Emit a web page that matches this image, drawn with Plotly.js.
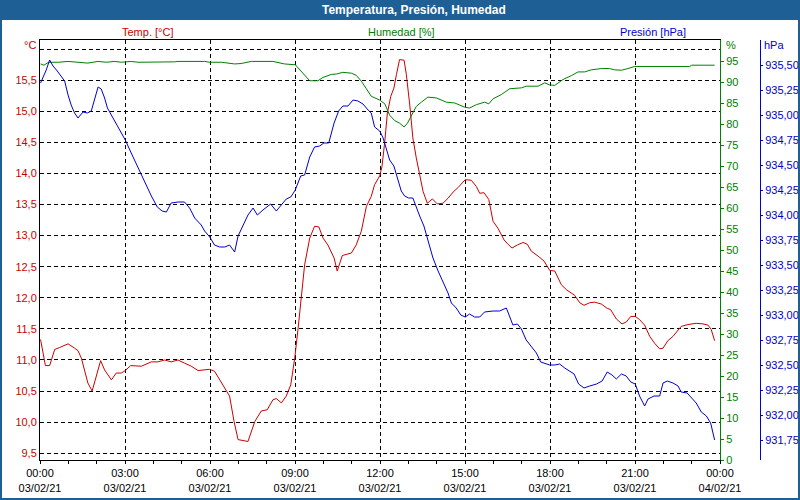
<!DOCTYPE html>
<html>
<head>
<meta charset="utf-8">
<script src="https://cdn.plot.ly/plotly-3.0.1.min.js"></script>
<style>html,body{margin:0;padding:0;background:#fff}#chart{width:800px;height:500px}</style>
</head>
<body>
<div id="chart"></div>
<script>
// ---- Data (hours since 03/02/21 00:00) ----
const tempHours = [0.02,0.19,0.34,0.52,0.69,0.99,1.22,1.34,1.46,1.58,1.69,1.84,1.99,2.14,2.28,2.52,2.69,2.87,3.01,3.20,
  3.58,3.93,4.16,4.40,4.63,4.87,5.10,5.34,5.58,5.81,5.99,6.16,6.34,6.58,6.69,6.85,6.99,7.34,7.58,7.81,
  8.02,8.22,8.34,8.52,8.69,8.85,8.99,9.11,9.22,9.34,9.52,9.69,9.84,9.99,10.16,10.38,10.49,10.67,10.99,11.16,
  11.34,11.52,11.69,11.81,11.99,12.07,12.17,12.26,12.38,12.49,12.58,12.69,12.85,12.93,13.05,13.16,13.28,13.40,13.52,13.67,
  13.85,14.02,14.22,14.40,14.58,14.75,14.93,15.01,15.22,15.40,15.52,15.67,15.84,15.99,16.16,16.38,16.52,16.66,16.85,17.05,
  17.20,17.34,17.58,17.79,17.99,18.17,18.40,18.58,18.87,19.05,19.20,19.40,19.58,19.81,20.02,20.14,20.34,20.54,20.69,20.85,
  21.01,21.16,21.34,21.52,21.69,21.87,21.99,22.16,22.34,22.63,22.87,23.16,23.40,23.58,23.69,23.81];
const tempValues = [11.33,10.91,10.91,11.17,11.20,11.26,11.19,11.15,11.03,10.82,10.63,10.50,10.76,10.99,10.84,10.68,10.79,10.79,10.83,10.91,
  10.90,10.97,10.97,11.00,10.97,11.00,10.95,10.90,10.83,10.84,10.85,10.82,10.68,10.50,10.42,10.01,9.72,9.69,10.01,10.18,
  10.20,10.36,10.38,10.31,10.42,10.60,11.03,11.51,12.00,12.53,12.96,13.15,13.14,12.96,12.85,12.64,12.43,12.68,12.72,12.85,
  13.07,13.47,13.63,13.82,13.96,14.11,14.52,14.97,15.24,15.37,15.59,15.83,15.82,15.59,15.10,14.57,14.25,13.98,13.71,13.52,
  13.59,13.51,13.52,13.60,13.70,13.77,13.86,13.90,13.89,13.79,13.68,13.69,13.58,13.23,13.12,12.93,12.86,12.80,12.85,12.89,
  12.86,12.75,12.67,12.59,12.44,12.43,12.21,12.13,12.04,11.92,11.88,11.92,11.93,11.90,11.83,11.81,11.66,11.58,11.61,11.70,
  11.70,11.65,11.56,11.38,11.27,11.18,11.19,11.31,11.38,11.54,11.57,11.59,11.58,11.56,11.49,11.31];

const presHours = [0.02,0.14,0.22,0.34,0.46,0.61,0.75,0.87,0.99,1.10,1.22,1.34,1.52,1.67,1.81,1.93,2.05,2.16,2.28,2.38,
  2.52,2.69,2.87,3.01,3.22,3.46,3.69,3.93,4.14,4.31,4.46,4.63,4.87,5.10,5.28,5.46,5.69,5.81,5.99,6.16,
  6.34,6.52,6.69,6.87,6.99,7.16,7.34,7.52,7.67,7.87,8.14,8.34,8.52,8.69,8.85,9.01,9.20,9.34,9.52,9.69,
  9.87,10.02,10.19,10.38,10.54,10.69,10.87,11.05,11.22,11.40,11.58,11.69,11.81,11.99,12.11,12.22,12.34,12.49,12.64,12.75,
  12.87,13.01,13.16,13.28,13.40,13.55,13.69,13.87,14.05,14.26,14.40,14.52,14.69,14.85,15.01,15.16,15.34,15.52,15.69,15.99,
  16.22,16.46,16.58,16.69,16.85,16.99,17.16,17.34,17.52,17.67,17.81,17.99,18.17,18.34,18.52,18.69,18.85,19.01,19.20,19.40,
  19.64,19.84,20.02,20.19,20.34,20.52,20.69,20.85,21.01,21.16,21.34,21.46,21.67,21.87,21.99,22.14,22.34,22.52,22.63,22.84,
  22.99,23.16,23.34,23.52,23.67,23.81];
const presValues = [935.32,935.40,935.45,935.55,935.49,935.44,935.38,935.34,935.20,935.10,935.02,934.97,935.03,935.02,935.04,935.17,935.28,935.26,935.17,935.07,
  935.00,934.91,934.82,934.75,934.62,934.47,934.34,934.19,934.08,934.04,934.03,934.12,934.13,934.13,934.07,933.97,933.90,933.84,933.78,933.70,
  933.68,933.68,933.70,933.63,933.79,933.89,934.00,934.07,934.00,934.05,934.11,934.04,934.10,934.16,934.18,934.25,934.39,934.40,934.58,934.68,
  934.69,934.72,934.72,934.92,935.04,935.09,935.09,935.15,935.14,935.11,935.05,935.02,934.88,934.84,934.77,934.67,934.55,934.49,934.34,934.24,
  934.19,934.17,934.17,934.07,933.99,933.89,933.74,933.57,933.44,933.30,933.22,933.12,933.07,933.00,932.98,933.01,932.98,932.98,933.03,933.04,
  933.04,933.07,932.99,932.90,932.91,932.86,932.75,932.68,932.62,932.53,932.52,932.50,932.50,932.51,932.47,932.44,932.41,932.31,932.27,932.29,
  932.31,932.34,932.43,932.40,932.36,932.41,932.39,932.33,932.31,932.19,932.09,932.16,932.19,932.19,932.32,932.34,932.32,932.29,932.23,932.22,
  932.17,932.12,932.03,931.99,931.92,931.75];

const humHours = [0.02,0.14,0.30,0.65,0.99,1.34,1.69,2.05,2.34,2.64,2.87,3.22,3.46,4.75,4.87,5.81,5.99,6.40,6.87,7.10,
  7.46,8.22,8.63,9.01,9.17,9.34,9.52,9.81,9.99,10.28,10.46,10.69,10.99,11.16,11.34,11.52,11.69,11.99,12.17,12.34,
  12.52,12.69,12.85,12.97,13.11,13.28,13.46,13.69,13.99,14.34,14.64,14.99,15.16,15.40,15.69,15.84,15.99,16.28,16.58,16.99,
  17.16,17.58,17.81,17.99,18.17,18.46,18.75,18.99,19.22,19.46,19.81,20.10,20.28,20.52,20.75,20.99,22.93,23.00,23.81];
const humValues = [94.3,94.0,94.7,94.7,94.9,94.7,94.5,94.9,94.7,94.9,94.7,94.9,94.7,94.8,94.9,94.9,94.7,94.7,94.3,94.4,
  94.9,94.9,94.3,94.1,92.9,91.4,90.3,90.3,91.1,91.8,91.9,92.3,92.1,91.6,90.2,88.4,86.6,85.7,84.8,82.1,
  80.8,80.2,79.3,80.2,82.1,84.2,85.2,86.4,86.2,85.2,85.0,84.0,83.8,84.6,85.2,84.8,86.0,87.0,88.4,88.6,
  89.0,89.0,89.8,89.3,89.2,90.6,91.5,92.4,92.4,92.9,93.2,93.2,92.9,92.8,93.2,93.7,93.7,94.0,94.0];

// ---- Axes ticks / labels ----
const xTickHours = [0,3,6,9,12,15,18,21,24];
const xTickTimes = ["00:00","03:00","06:00","09:00","12:00","15:00","18:00","21:00","00:00"];
const xTickDates = ["03/02/21","03/02/21","03/02/21","03/02/21","03/02/21","03/02/21","03/02/21","03/02/21","04/02/21"];
const tempTicks = [9.5,10.0,10.5,11.0,11.5,12.0,12.5,13.0,13.5,14.0,14.5,15.0,15.5,16.0];
const tempTickText = ["9,5","10,0","10,5","11,0","11,5","12,0","12,5","13,0","13,5","14,0","14,5","15,0","15,5",""];
const humTicks = [0,5,10,15,20,25,30,35,40,45,50,55,60,65,70,75,80,85,90,95];
const presTicks = [931.75,932.00,932.25,932.50,932.75,933.00,933.25,933.50,933.75,934.00,934.25,934.50,934.75,935.00,935.25,935.50];

const titleText = "Temperatura, Presión, Humedad";
const seriesNames = ["Temp. [°C]","Humedad [%]","Presión [hPa]"];
const unitNames = ["°C","%","hPa"];

// ---- Styles ----
const RED = "#cc0000", GREEN = "#008000", BLUE = "#0000cc", BAR = "#1e5f96";
const FONT = "Liberation Sans, Arial, sans-serif";
const W = 800, H = 500, ML = 40, MR = 80, MT = 40, MB = 40;
const PW = W - ML - MR, PH = H - MT - MB;
const px = x => (x - ML) / PW;        // pixel x -> paper
const py = y => (H - MB - y) / PH;    // pixel y -> paper

const traces = [
  {x: tempHours, y: tempValues, type: "scatter", mode: "lines", name: seriesNames[0],
   line: {color: RED, width: 1}, yaxis: "y"},
  {x: humHours, y: humValues, type: "scatter", mode: "lines", name: seriesNames[1],
   line: {color: GREEN, width: 1}, yaxis: "y2"},
  {x: presHours, y: presValues, type: "scatter", mode: "lines", name: seriesNames[2],
   line: {color: BLUE, width: 1}, yaxis: "y3"}
];

const grid = {showgrid: true, gridcolor: "#000000", gridwidth: 1, griddash: "4px,3px"};

const layout = {
  width: W, height: H,
  margin: {l: ML, r: MR, t: MT, b: MB, pad: 0},
  paper_bgcolor: "#ffffff", plot_bgcolor: "#ffffff",
  separators: ",.",
  showlegend: false,
  font: {family: FONT, size: 11, color: "#000"},
  xaxis: Object.assign({
    range: [0, 24], tickmode: "array", tickvals: xTickHours,
    ticktext: xTickTimes.map((t, i) => t + "<br>" + xTickDates[i]),
    ticks: "outside", ticklen: 3, tickcolor: "#000", tickwidth: 1,
    showline: true, linecolor: "#000", linewidth: 1, mirror: true, zeroline: false,
    tickfont: {family: FONT, size: 11, color: "#000"},
    minor: {dtick: 1, tick0: 0, ticks: "outside", ticklen: 3, tickcolor: "#000", showgrid: false}
  }, grid),
  yaxis: Object.assign({
    range: [9.392, 16.145], tickmode: "array", tickvals: tempTicks, ticktext: tempTickText,
    ticks: "", showline: true, linecolor: "#000", linewidth: 1, zeroline: false,
    tickfont: {family: FONT, size: 11, color: RED}
  }, grid),
  yaxis2: {
    range: [0, 100], overlaying: "y", side: "right", anchor: "x",
    tickmode: "array", tickvals: humTicks,
    ticks: "outside", ticklen: 3, tickcolor: GREEN,
    showline: true, linecolor: GREEN, linewidth: 1, showgrid: false, zeroline: false,
    tickfont: {family: FONT, size: 11, color: GREEN}
  },
  yaxis3: {
    range: [931.55, 935.75], overlaying: "y", side: "right", anchor: "free", position: 1, shift: 40,
    tickmode: "array", tickvals: presTicks, tickformat: ".2f",
    ticks: "outside", ticklen: 2, tickcolor: BLUE,
    showline: true, linecolor: BLUE, linewidth: 1, showgrid: false, zeroline: false,
    tickfont: {family: FONT, size: 11, color: BLUE}
  },
  shapes: [
    {type: "rect", xref: "paper", yref: "paper", x0: px(0), x1: px(800), y0: py(20), y1: py(0),
     fillcolor: BAR, line: {width: 0}},
    {type: "rect", xref: "paper", yref: "paper", x0: px(1), x1: px(799), y0: py(499), y1: py(1),
     fillcolor: "rgba(0,0,0,0)", line: {color: BAR, width: 2}}
  ],
  annotations: [
    {text: "<b>" + titleText + "</b>", xref: "paper", yref: "paper", x: px(414), y: py(10),
     xanchor: "center", yanchor: "middle", showarrow: false, font: {family: FONT, size: 12, color: "#ffffff"}},
    {text: seriesNames[0], xref: "paper", yref: "paper", x: px(147), y: py(31.5),
     xanchor: "center", yanchor: "middle", showarrow: false, font: {family: FONT, size: 11, color: RED}},
    {text: seriesNames[1], xref: "paper", yref: "paper", x: px(401), y: py(31.5),
     xanchor: "center", yanchor: "middle", showarrow: false, font: {family: FONT, size: 11, color: GREEN}},
    {text: seriesNames[2], xref: "paper", yref: "paper", x: px(653), y: py(31.5),
     xanchor: "center", yanchor: "middle", showarrow: false, font: {family: FONT, size: 11, color: BLUE}},
    {text: unitNames[0], xref: "paper", yref: "paper", x: px(38), y: py(45.5),
     xanchor: "right", yanchor: "middle", showarrow: false, font: {family: FONT, size: 11, color: RED}},
    {text: unitNames[1], xref: "paper", yref: "paper", x: px(724), y: py(45.5),
     xanchor: "left", yanchor: "middle", showarrow: false, font: {family: FONT, size: 11, color: GREEN}},
    {text: unitNames[2], xref: "paper", yref: "paper", x: px(762), y: py(45.5),
     xanchor: "left", yanchor: "middle", showarrow: false, font: {family: FONT, size: 11, color: BLUE}}
  ]
};

Plotly.newPlot("chart", traces, layout, {displayModeBar: false, staticPlot: true});
</script>
</body>
</html>
